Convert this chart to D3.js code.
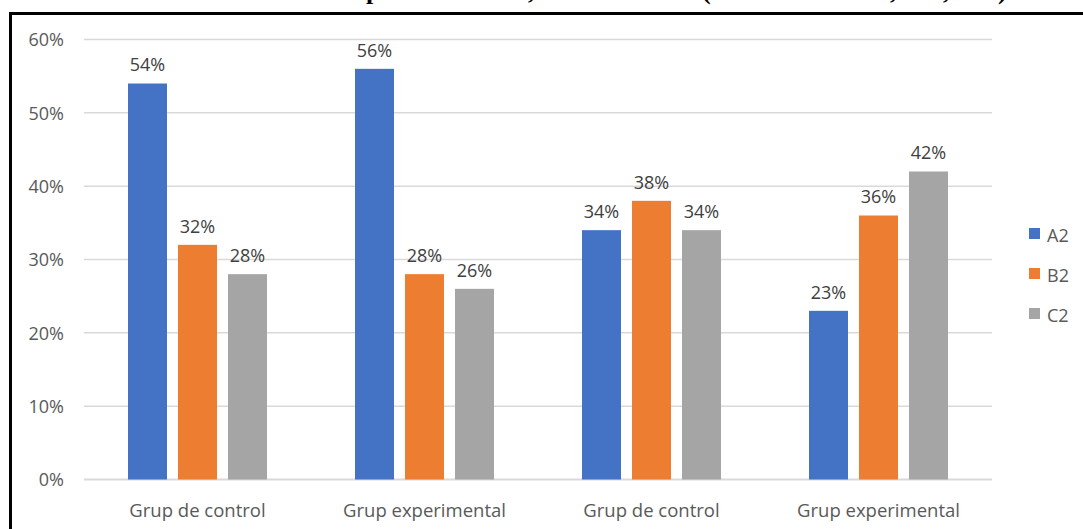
<!DOCTYPE html>
<html><head><meta charset="utf-8">
<script src="https://cdn.jsdelivr.net/npm/d3@7"></script>
<style>body{margin:0;background:#fff}svg{display:block}</style>
</head><body>
<svg id="c" width="1083" height="529"></svg>
<script>
const categories = ["Grup de control","Grup experimental","Grup de control","Grup experimental"];
const seriesNames = ["A2","B2","C2"];
const valuesA2 = [54,56,34,23];
const valuesB2 = [32,28,38,36];
const valuesC2 = [28,26,34,42];
const yTicks = [0,10,20,30,40,50,60];
const colors = ["#4472C4","#ED7D31","#A5A5A5"];
const seriesValues = [valuesA2, valuesB2, valuesC2];

(function(){
const svg = d3.select("#c");
const font = "'Open Sans', sans-serif";

// title, clipped by the top edge as in the reference (only descenders visible)
const tg = svg.append("g").attr("font-family","'Liberation Serif', serif").attr("font-weight","bold").attr("font-size",26).attr("fill","#000");
const ty = -1;
const segs = [
  {t:"Resultats de la ", x:366, anchor:"end"},
  {t:"prova final", x:366, len:162},
  {t:", abans i ara ", x:528, len:174},
  {t:"(nivells A2", x:702, len:188},
  {t:", B2", x:890, len:53},
  {t:", C2", x:943, len:55},
  {t:")", x:998}
];
segs.forEach(s=>{
  const t = tg.append("text").attr("x",s.x).attr("y",ty).attr("text-anchor",s.anchor||"start").text(s.t);
  if(s.len){ t.attr("textLength",s.len).attr("lengthAdjust","spacing"); }
});

// frame
svg.append("rect").attr("x",10.5).attr("y",13.5).attr("width",1100).attr("height",600)
  .attr("fill","none").attr("stroke","#000").attr("stroke-width",3);

const pLeft=84, pRight=992, pTop=39.5, pBottom=479.5;
const x0 = d3.scaleBand().domain(d3.range(categories.length)).range([pLeft,pRight]).padding(0);
const inner = 139;
const x1 = d3.scaleBand().domain(d3.range(seriesNames.length)).range([0,inner]).paddingInner(0.22).paddingOuter(0);
const y = d3.scaleLinear().domain([0,60]).range([pBottom,pTop]);

// gridlines
svg.append("g").selectAll("line").data(yTicks).join("line")
  .attr("x1",pLeft).attr("x2",pRight).attr("y1",d=>y(d)).attr("y2",d=>y(d))
  .attr("stroke","#D9D9D9").attr("stroke-width",d=>d===0?2:1.5);

// y axis labels
const yAxis = d3.axisLeft(y).tickValues(yTicks).tickFormat(d=>d+"%").tickSize(0).tickPadding(0);
const ya = svg.append("g").attr("transform",`translate(64,0)`).call(yAxis);
ya.select(".domain").remove();
ya.selectAll("text").attr("font-family",font).attr("font-size",18).attr("fill","#595959").attr("dy","0.35em");

// x axis labels
const xAxis = d3.axisBottom(x0).tickFormat(i=>categories[i]).tickSize(0).tickPadding(0);
const xa = svg.append("g").attr("transform",`translate(0,511)`).call(xAxis);
xa.select(".domain").remove();
xa.selectAll("text").attr("font-family",font).attr("font-size",18.5).attr("fill","#595959").attr("dy","0.35em");

// bars
const off = (x0.bandwidth()-inner)/2;
seriesValues.forEach((vals,si)=>{
  const g = svg.append("g");
  g.selectAll("rect").data(vals).join("rect")
    .attr("x",(d,i)=>x0(i)+off+x1(si))
    .attr("y",d=>y(d))
    .attr("width",x1.bandwidth())
    .attr("height",d=>y(0)-y(d))
    .attr("fill",colors[si]);
  g.selectAll("text").data(vals).join("text")
    .attr("x",(d,i)=>x0(i)+off+x1(si)+x1.bandwidth()/2)
    .attr("y",d=>y(d)-18.5)
    .attr("dy","0.35em")
    .attr("text-anchor","middle")
    .attr("font-family",font).attr("font-size",18).attr("fill","#404040")
    .text(d=>d+"%");
});

// legend
const lg = svg.append("g");
seriesNames.forEach((n,i)=>{
  const yy = 234 + i*40;
  lg.append("rect").attr("x",1029).attr("y",yy-6).attr("width",11).attr("height",11).attr("fill",colors[i]);
  lg.append("text").attr("x",1047).attr("y",yy+2).attr("dy","0.35em").attr("font-family",font).attr("font-size",18).attr("fill","#595959").text(n);
});
})();
</script>
</body></html>
